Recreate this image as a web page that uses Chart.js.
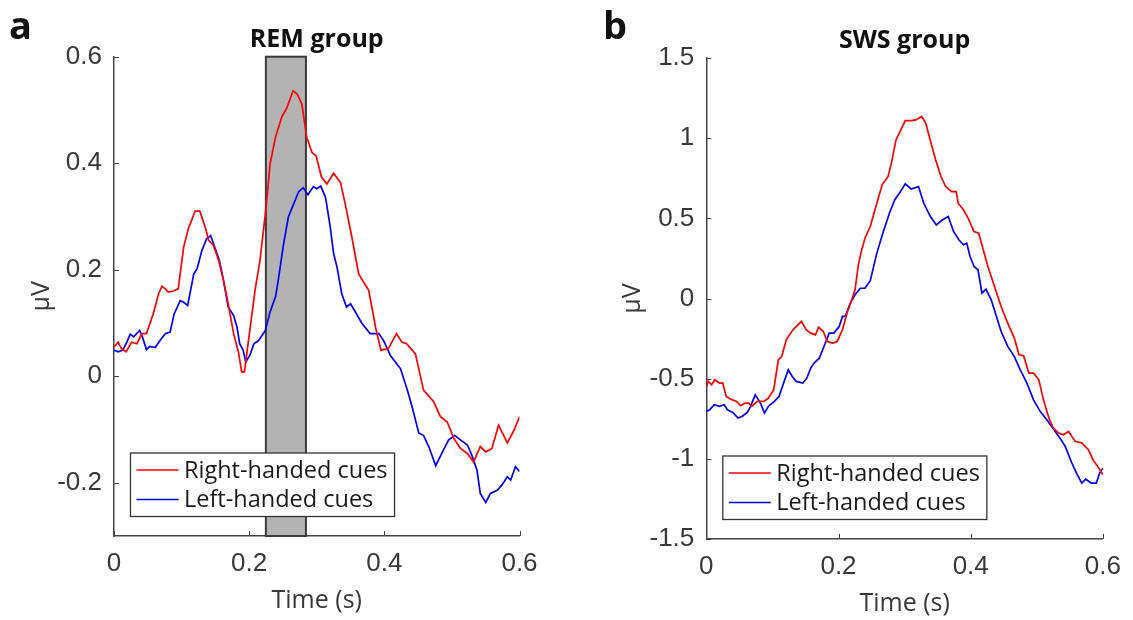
<!DOCTYPE html>
<html>
<head>
<meta charset="utf-8">
<script src="https://cdn.jsdelivr.net/npm/chart.js@4.4.1/dist/chart.umd.min.js"></script>
<style>
  body { margin: 0; background: #fff; }
  canvas { position: absolute; top: 0; }
</style>
</head>
<body>
<canvas id="remChart" width="560" height="620" style="left:0"></canvas>
<canvas id="swsChart" width="573" height="620" style="left:560px"></canvas>
<script>
// ---- panel a: REM group ----
const remRightTime = [0, .006, .011, .018, .026, .034, .041, .048, .058, .066, .071, .076, .080, .088, .095, .103, .110, .120, .127, .135,
  .140, .147, .155, .162, .169, .177, .184, .189, .193, .199, .209, .216, .225, .231, .239, .248, .256, .265, .271, .278,
  .285, .293, .299, .307, .315, .325, .335, .342, .352, .362, .377, .387, .395, .406, .418, .426, .433, .446, .458, .473,
  .483, .493, .503, .513, .523, .532, .542, .550, .559, .569, .582, .592, .600];
const remRight = [.055, .064, .052, .046, .064, .061, .080, .080, .117, .155, .169, .164, .158, .160, .164, .242, .277, .310, .310, .280,
  .255, .246, .217, .180, .136, .080, .046, .008, .008, .067, .164, .217, .317, .399, .449, .486, .505, .536, .530, .511,
  .449, .420, .414, .374, .361, .381, .364, .324, .261, .192, .161, .092, .049, .052, .080, .064, .061, .042, -.026, -.048,
  -.076, -.086, -.117, -.136, -.145, -.161, -.132, -.142, -.136, -.092, -.125, -.101, -.076];

const remLeftTime = [0, .006, .013, .019, .024, .029, .038, .042, .048, .053, .061, .068, .076, .083, .089, .098, .103, .109, .118, .123,
  .130, .137, .143, .150, .156, .162, .169, .177, .182, .186, .191, .195, .201, .207, .214, .224, .231, .239, .243, .251,
  .258, .266, .273, .280, .287, .295, .300, .306, .313, .320, .325, .330, .337, .344, .350, .357, .367, .379, .392, .399,
  .409, .418, .424, .434, .441, .451, .458, .466, .476, .486, .495, .504, .513, .523, .530, .537, .542, .550, .557, .567,
  .574, .582, .587, .594, .600];
const remLeft = [.049, .046, .049, .064, .079, .074, .086, .074, .050, .056, .054, .067, .080, .083, .117, .142, .139, .133, .192, .202,
  .236, .258, .264, .239, .217, .180, .130, .114, .092, .061, .049, .027, .039, .061, .067, .086, .121, .149, .180, .249,
  .299, .324, .346, .354, .341, .356, .352, .357, .336, .280, .230, .205, .155, .130, .136, .121, .099, .080, .080, .067,
  .039, .024, .014, -.026, -.057, -.107, -.111, -.133, -.168, -.142, -.120, -.111, -.120, -.129, -.150, -.176, -.220, -.237, -.220, -.214,
  -.204, -.189, -.195, -.170, -.179];

const remBand = [0.2247, 0.284];   // shaded window (s)
const remYTicks = [-0.2, 0, 0.2, 0.4, 0.6];

// ---- panel b: SWS group ----
const swsRightTime = [0, .003, .008, .013, .020, .025, .030, .037, .046, .052, .058, .064, .069, .077, .087, .094, .102, .109, .114, .121,
  .131, .144, .151, .158, .165, .170, .177, .183, .191, .198, .206, .213, .220, .225, .230, .235, .240, .248, .258, .266,
  .275, .280, .287, .293, .301, .310, .317, .326, .332, .340, .347, .355, .362, .371, .378, .381, .389, .396, .405, .412,
  .419, .426, .436, .446, .456, .466, .473, .480, .488, .495, .503, .510, .519, .525, .533, .540, .548, .558, .568, .578,
  .585, .592, .600];
const swsRight = [-.549, -.517, -.538, -.507, -.528, -.528, -.611, -.628, -.642, -.669, -.653, -.653, -.673, -.642, -.642, -.621, -.569, -.382, -.362, -.258,
  -.195, -.143, -.195, -.216, -.227, -.179, -.206, -.268, -.278, -.268, -.195, -.091, -.008, .054, .210, .303, .376, .449, .594, .709,
  .761, .844, .989, 1.041, 1.110, 1.110, 1.114, 1.135, 1.093, .968, .864, .761, .698, .667, .667, .594, .553, .501, .418, .407,
  .303, .200, .075, -.050, -.154, -.247, -.351, -.357, -.465, -.465, -.507, -.632, -.756, -.808, -.839, -.850, -.829, -.891, -.901, -.943,
  -1.006, -1.047, -1.100];

const swsLeftTime = [0, .005, .012, .020, .027, .032, .040, .048, .054, .062, .067, .074, .082, .088, .094, .103, .110, .116, .124, .130,
  .136, .146, .152, .158, .163, .171, .176, .181, .186, .193, .201, .206, .210, .218, .225, .233, .240, .248, .258, .267,
  .277, .285, .292, .301, .310, .321, .329, .339, .348, .357, .366, .374, .382, .389, .394, .399, .405, .411, .417, .423,
  .431, .438, .446, .456, .466, .475, .485, .495, .505, .515, .526, .535, .543, .553, .560, .568, .574, .582, .590, .595,
  .600];
const swsLeft = [-.704, -.694, -.663, -.673, -.663, -.694, -.711, -.746, -.736, -.711, -.673, -.601, -.653, -.715, -.673, -.642, -.611, -.538, -.445, -.486,
  -.517, -.528, -.497, -.434, -.403, -.372, -.320, -.268, -.216, -.216, -.175, -.112, -.112, -.029, .023, .064, .064, .111, .283, .407,
  .532, .615, .657, .715, .682, .698, .594, .511, .459, .490, .511, .418, .366, .335, .345, .262, .200, .179, .033, .058,
  -.008, -.100, -.206, -.299, -.362, -.445, -.528, -.632, -.704, -.756, -.819, -.871, -.923, -1.026, -1.089, -1.151, -1.126, -1.151, -1.151, -1.089,
  -1.058];

const swsYTicks = [-1.5, -1, -0.5, 0, 0.5, 1, 1.5];

const timeTicks = [0, 0.2, 0.4, 0.6];
const seriesLabels = ['Right-handed cues', 'Left-handed cues'];

const axisColor = '#444';
const textColor = '#383838';

function pts(ts, vs) {
    return ts.map((t, i) => ({ x: t, y: vs[i] }));
}

// panel letter, title, shaded window, inward ticks and boxed legend
const panelDecor = {
    id: 'panelDecor',
    beforeDatasetsDraw(chart, args, opts) {
        const { ctx, chartArea, scales } = chart;
        if (!opts.band) return;
        const x1 = scales.x.getPixelForValue(opts.band[0]);
        const x2 = scales.x.getPixelForValue(opts.band[1]);
        ctx.save();
        ctx.fillStyle = '#b3b3b3';
        ctx.fillRect(x1, chartArea.top, x2 - x1, chartArea.bottom - chartArea.top);
        ctx.strokeStyle = '#3a3a3a';
        ctx.lineWidth = 2;
        ctx.strokeRect(x1, chartArea.top, x2 - x1, chartArea.bottom - chartArea.top);
        ctx.restore();
    },
    afterDatasetsDraw(chart, args, opts) {
        const { ctx, chartArea } = chart;
        ctx.save();
        // legend
        ctx.font = '23.5px "Open Sans"';
        const textW = Math.max(...chart.data.datasets.map(d => ctx.measureText(d.label).width));
        const w = 53.5 + textW + 7;
        const h = 63.5;
        const left = chartArea.left + 16.5;
        const top = chartArea.bottom - 19.5 - h;
        ctx.fillStyle = '#fff';
        ctx.fillRect(left, top, w, h);
        ctx.strokeStyle = '#333';
        ctx.lineWidth = 1.3;
        ctx.strokeRect(left, top, w, h);
        chart.data.datasets.forEach((d, i) => {
            const y = top + 17 + i * 29.5;
            ctx.strokeStyle = d.borderColor;
            ctx.lineWidth = 1.7;
            ctx.beginPath();
            ctx.moveTo(left + 6, y);
            ctx.lineTo(left + 48, y);
            ctx.stroke();
            ctx.fillStyle = '#1a1a1a';
            ctx.textAlign = 'left';
            ctx.textBaseline = 'middle';
            ctx.fillText(d.label, left + 53.5, y + 1);
        });
        ctx.restore();
    },
    afterDraw(chart, args, opts) {
        const { ctx, chartArea, scales } = chart;
        ctx.save();
        // inward tick marks
        ctx.strokeStyle = axisColor;
        ctx.lineWidth = 1;
        ctx.beginPath();
        scales.x.ticks.forEach(t => {
            const x = Math.round(scales.x.getPixelForValue(t.value)) + 0.5;
            ctx.moveTo(x, chartArea.bottom);
            ctx.lineTo(x, chartArea.bottom - 5);
        });
        scales.y.ticks.forEach(t => {
            const y = Math.round(scales.y.getPixelForValue(t.value)) + 0.5;
            ctx.moveTo(chartArea.left, y);
            ctx.lineTo(chartArea.left + 5, y);
        });
        ctx.stroke();
        // title
        ctx.fillStyle = '#111';
        ctx.textAlign = 'center';
        ctx.textBaseline = 'alphabetic';
        ctx.font = 'bold 25px "Open Sans"';
        ctx.fillText(opts.title, (chartArea.left + chartArea.right) / 2, chartArea.top - 10);
        // panel letter
        ctx.textAlign = 'left';
        ctx.font = 'bold 38px "Open Sans"';
        ctx.fillText(opts.letter, opts.letterX, 39);
        ctx.restore();
    }
};

function makePanel(canvasId, cfg) {
    return new Chart(document.getElementById(canvasId), {
        type: 'line',
        data: {
            datasets: [
                {
                    label: seriesLabels[0],
                    data: pts(cfg.rightTime, cfg.right),
                    borderColor: '#ff0000',
                    borderWidth: 1.7,
                    pointRadius: 0,
                    fill: false,
                    tension: 0
                },
                {
                    label: seriesLabels[1],
                    data: pts(cfg.leftTime, cfg.left),
                    borderColor: '#0000ff',
                    borderWidth: 1.7,
                    pointRadius: 0,
                    fill: false,
                    tension: 0
                }
            ]
        },
        options: {
            responsive: false,
            animation: false,
            layout: { padding: cfg.padding },
            scales: {
                x: {
                    type: 'linear',
                    min: 0,
                    max: 0.6,
                    afterBuildTicks(scale) { scale.ticks = timeTicks.map(v => ({ value: v })); },
                    afterFit(scale) { scale.height = 80; },
                    grid: { display: false, drawTicks: false },
                    border: { display: true, color: axisColor, width: 1.5 },
                    ticks: {
                        padding: 12,
                        color: textColor,
                        maxRotation: 0,
                        font: { family: 'Liberation Sans', size: 26 },
                        callback: v => String(v)
                    },
                    title: {
                        display: true,
                        text: 'Time (s)',
                        color: textColor,
                        padding: 0,
                        font: { family: 'Open Sans', size: 25 }
                    }
                },
                y: {
                    type: 'linear',
                    min: cfg.yMin,
                    max: cfg.yMax,
                    afterBuildTicks(scale) { scale.ticks = cfg.yTicks.map(v => ({ value: v })); },
                    afterFit(scale) { scale.width = cfg.yWidth; },
                    grid: { display: false, drawTicks: false },
                    border: { display: true, color: axisColor, width: 1.5 },
                    ticks: {
                        padding: 12,
                        color: textColor,
                        font: { family: 'Liberation Sans', size: 26 },
                        callback: v => String(v)
                    },
                    title: {
                        display: true,
                        text: 'μV',
                        color: textColor,
                        padding: { top: cfg.yTitlePad, bottom: 0 },
                        font: { family: 'Open Sans', size: 25 }
                    }
                }
            },
            plugins: {
                legend: { display: false },
                tooltip: { enabled: false },
                panelDecor: cfg.decor
            }
        },
        plugins: [panelDecor]
    });
}

makePanel('remChart', {
    rightTime: remRightTime, right: remRight,
    leftTime: remLeftTime, left: remLeft,
    yMin: -0.3, yMax: 0.6, yTicks: remYTicks,
    yWidth: 114, yTitlePad: 27,
    padding: { left: 0, top: 56.7, right: 40.5, bottom: 4 },
    decor: { title: 'REM group', letter: 'a', letterX: 9, band: remBand }
});

makePanel('swsChart', {
    rightTime: swsRightTime, right: swsRight,
    leftTime: swsLeftTime, left: swsLeft,
    yMin: -1.5, yMax: 1.5, yTicks: swsYTicks,
    yWidth: 146.3, yTitlePad: 58,
    padding: { left: 0, top: 58, right: 23, bottom: 1 },
    decor: { title: 'SWS group', letter: 'b', letterX: 43, band: null }
});
</script>
</body>
</html>
